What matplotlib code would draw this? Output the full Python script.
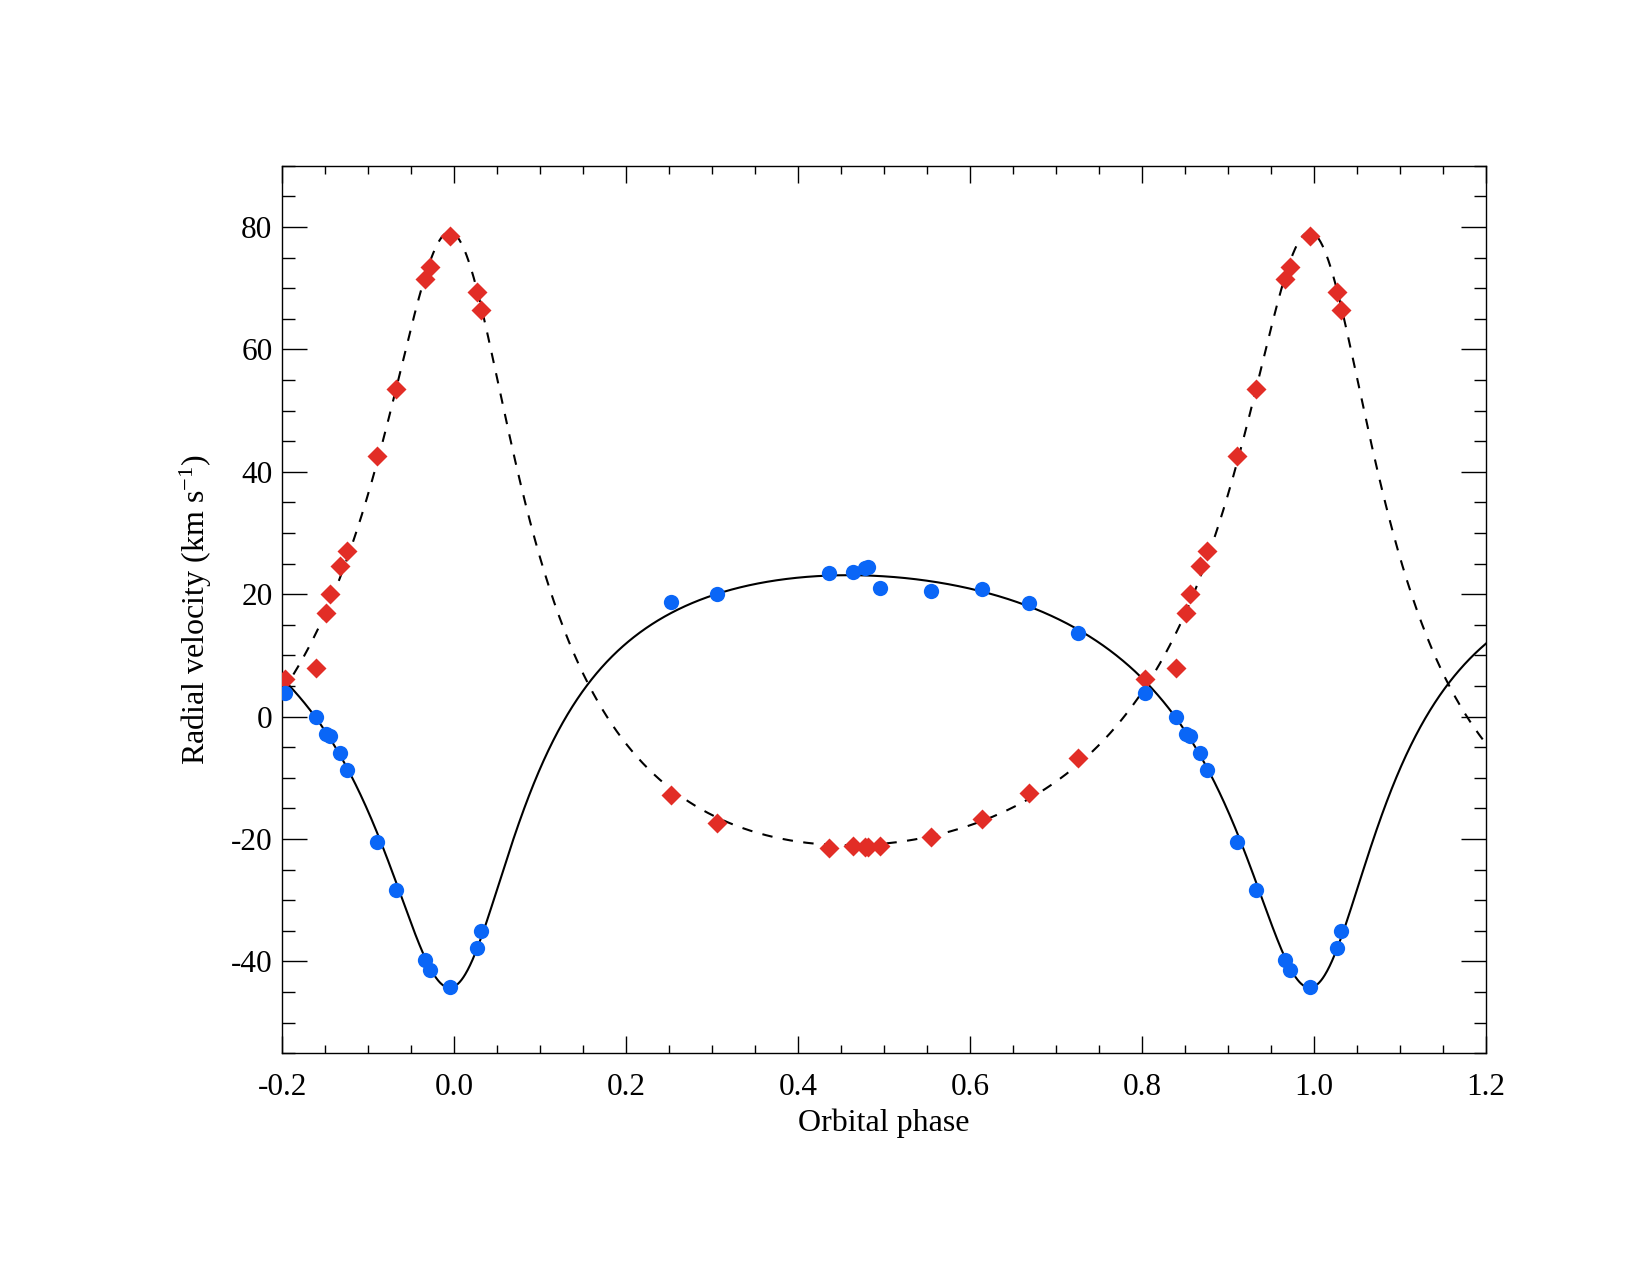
import numpy as np
import matplotlib
matplotlib.use("Agg")
import matplotlib.pyplot as plt
from matplotlib.ticker import MultipleLocator

plt.rcParams['font.family'] = ['Liberation Serif', 'DejaVu Serif']
plt.rcParams['mathtext.fontset'] = 'custom'
plt.rcParams['mathtext.rm'] = 'Liberation Serif'
plt.rcParams['axes.unicode_minus'] = False

# measured radial velocities (phase in [0,1))
phase = [0.2523, 0.3058, 0.4357, 0.4640, 0.4775, 0.4815, 0.4949, 0.5547,
         0.6140, 0.6686, 0.7252, 0.8035, 0.8395, 0.8510, 0.8558, 0.8674,
         0.8752, 0.9108, 0.9322, 0.9663, 0.9721, 0.9946, 0.0263, 0.0314]
rv_primary = [18.7, 20.1, 23.4, 23.6, 24.2, 24.4, 21.05, 20.5,
              20.9, 18.6, 13.7, 3.9, 0.0, -2.9, -3.1, -6.0,
              -8.7, -20.5, -28.4, -39.7, -41.35, -44.2, -37.8, -35.0]
rv_secondary = [-12.9, -17.4, -21.5, -21.2, -21.3, -21.3, -21.2, -19.6,
                -16.7, -12.5, -6.75, 6.1, 8.0, 16.9, 19.95, 24.6,
                27.0, 42.6, 53.6, 71.45, 73.5, 78.6, 69.4, 66.4]

# orbital solution
gamma = 5.35
K1 = 33.7
K2 = 50.1
ecc = 0.476
omega = 186.0
T0 = 0.0


def kepler_rv(ph, K, w):
    M = 2 * np.pi * (ph - T0)
    E = M.copy()
    for i in range(50):
        E = E - (E - ecc * np.sin(E) - M) / (1 - ecc * np.cos(E))
    nu = 2 * np.arctan2(np.sqrt(1 + ecc) * np.sin(E / 2),
                        np.sqrt(1 - ecc) * np.cos(E / 2))
    wr = np.radians(w)
    return gamma + K * (np.cos(nu + wr) + ecc * np.cos(wr))


ph_model = np.linspace(-0.2, 1.2, 2000)
v1 = kepler_rv(ph_model, K1, omega)
v2 = kepler_rv(ph_model, K2, omega + 180.0)

fig = plt.figure(figsize=(16.5, 12.75), dpi=100)
ax = fig.add_axes([0.171, 0.174, 0.7297, 0.696])

ax.plot(ph_model, v1, color='black', lw=1.5, zorder=2)
ax.plot(ph_model, v2, color='black', lw=1.5, ls=(0, (5, 5)), zorder=2)

ph = np.array(phase)
for shift in (-1, 0, 1):
    p = ph + shift
    m = (p >= -0.2) & (p <= 1.2)
    ax.plot(p[m], np.array(rv_secondary)[m], 'D', color='#e22d26',
            ms=10.5, mec='none', zorder=3)
    ax.plot(p[m], np.array(rv_primary)[m], 'o', color='#0a66f7',
            ms=11, mec='none', zorder=3)

ax.set_xlim(-0.2, 1.2)
ax.set_ylim(-55, 90)
ax.xaxis.set_major_locator(MultipleLocator(0.2))
ax.xaxis.set_minor_locator(MultipleLocator(0.05))
ax.yaxis.set_major_locator(MultipleLocator(20))
ax.yaxis.set_minor_locator(MultipleLocator(5))
ax.xaxis.set_major_formatter(plt.FuncFormatter(lambda x, p: '%.1f' % x))

ax.tick_params(axis='both', which='both', direction='in', top=True, right=True,
               labelsize=22.5, width=1.0)
ax.tick_params(axis='x', which='major', length=12, pad=14)
ax.tick_params(axis='x', which='minor', length=6)
ax.tick_params(axis='y', which='major', length=18, pad=7)
ax.tick_params(axis='y', which='minor', length=9)
for s in ax.spines.values():
    s.set_linewidth(1.0)

ax.set_xlabel('Orbital phase', fontsize=23, labelpad=5)
ax.set_ylabel(r'Radial velocity (km $\mathrm{s^{-1}}$)', fontsize=23, labelpad=12)

fig.savefig('out.png', dpi=100)
